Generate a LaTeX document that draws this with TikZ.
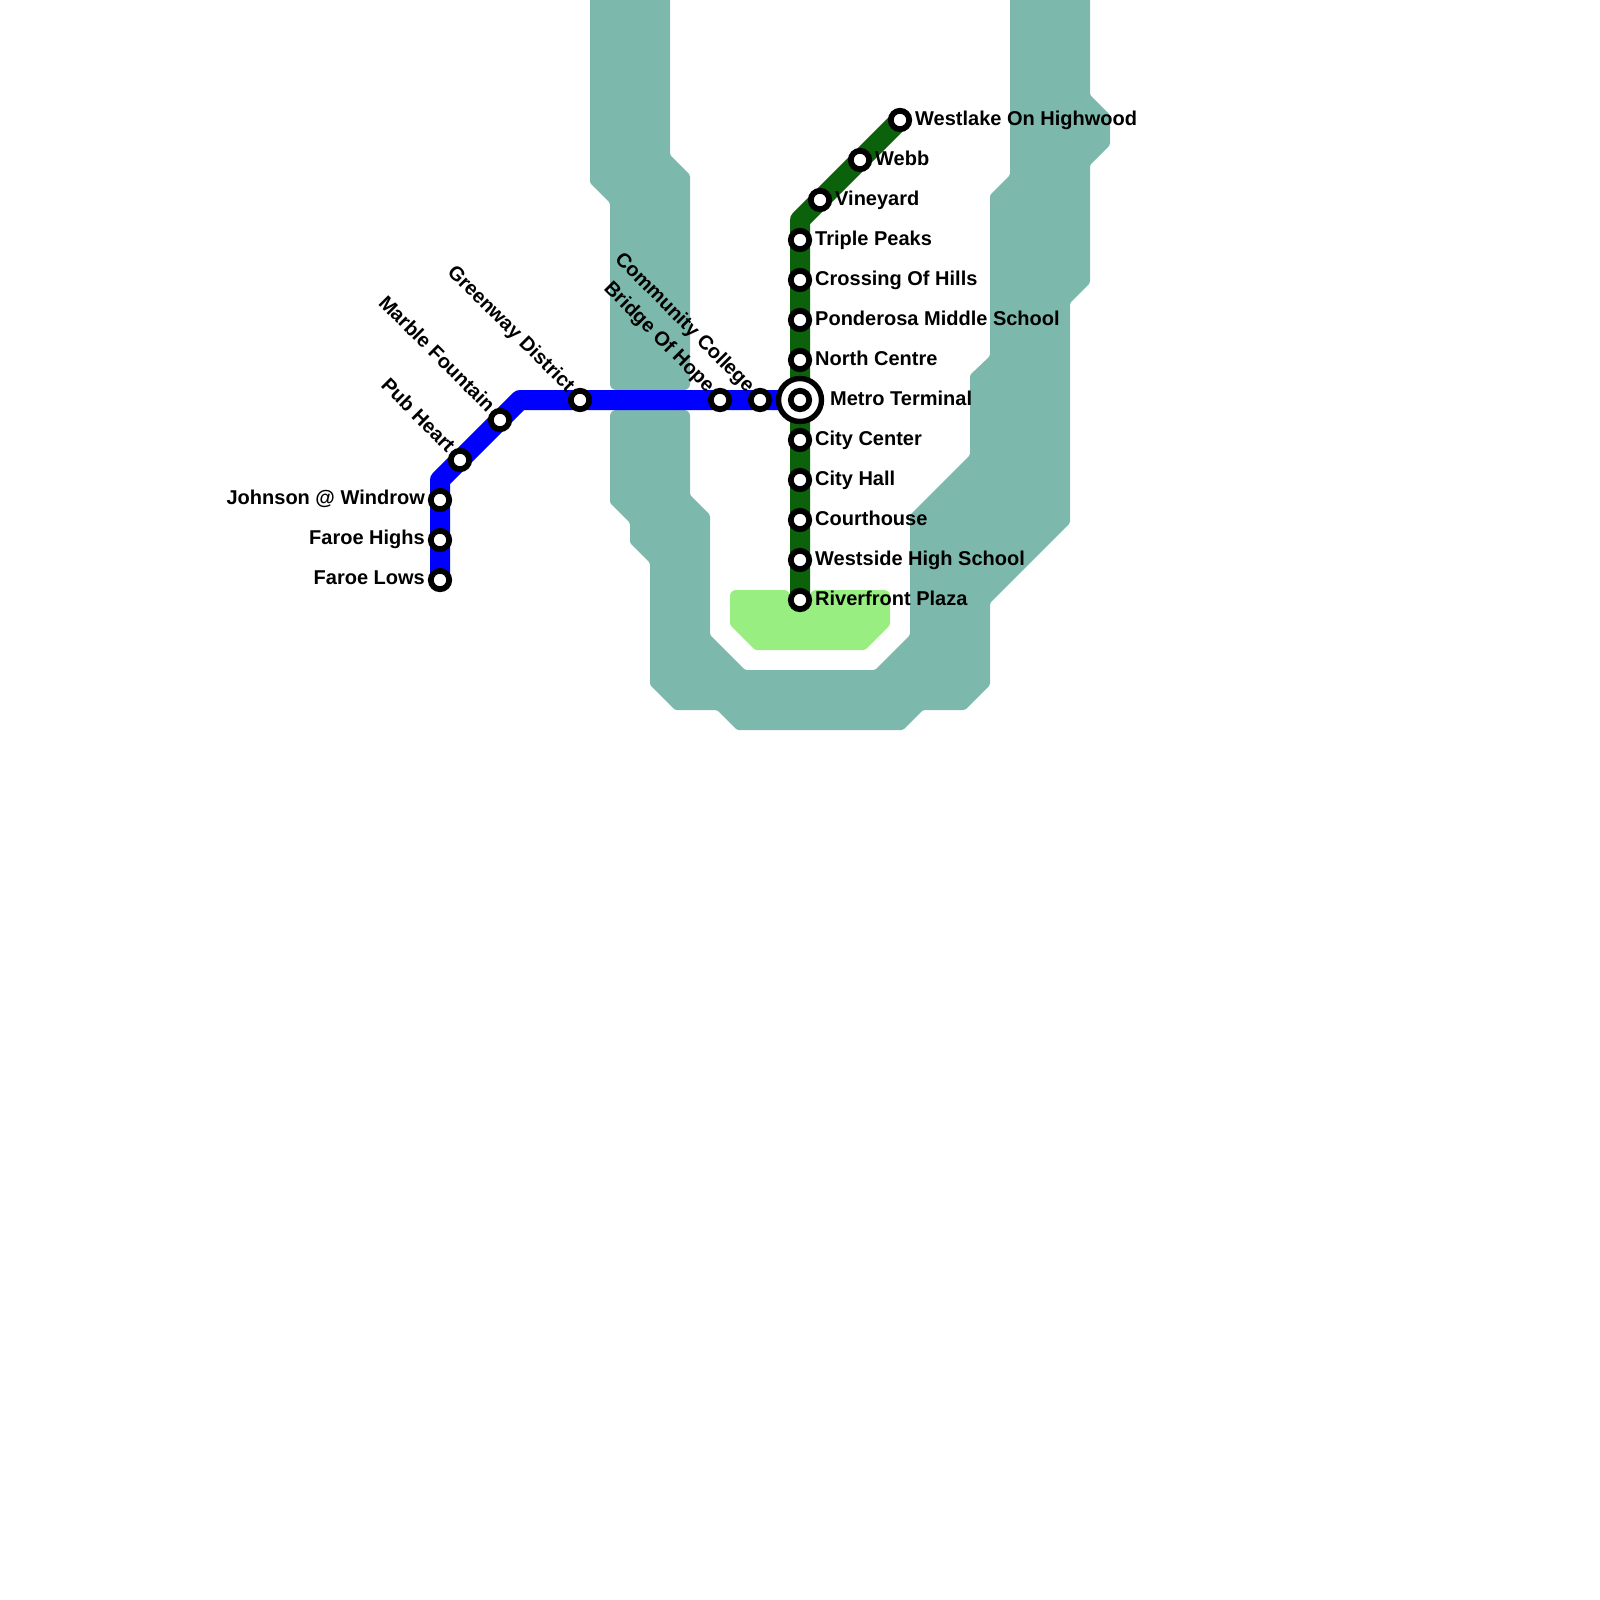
\documentclass[tikz,border=0pt]{standalone}
\usepackage{fontspec}
\setmainfont{Liberation Sans}
\definecolor{water}{RGB}{125,184,172}
\definecolor{park}{RGB}{152,238,128}
\definecolor{lineg}{RGB}{11,98,11}
\tikzset{
 waterarea/.style={fill=water,draw=none,rounded corners=1.5pt},
 parkarea/.style={fill=park,draw=none,rounded corners=1.5pt},
 metroline/.style={line width=20pt,line join=round},
 stn/.style={circle,draw=black,fill=white,line width=5.8pt,minimum size=18.4pt,inner sep=0pt,outer sep=0pt},
 hub/.style={circle,draw=black,fill=white,line width=5.4pt,minimum size=43pt,inner sep=0pt,outer sep=0pt},
 lab/.style={font=\fontsize{20}{24}\selectfont\bfseries,inner sep=0pt,text=black},
 labr/.style={lab,anchor=base west},
 labl/.style={lab,anchor=base east},
 labd/.style={lab,anchor=base east,rotate=-45}
}
\begin{document}
\begin{tikzpicture}[x=1pt,y=-1pt]
\useasboundingbox (0,0) rectangle (1600,1600);
\clip (0,0) rectangle (1600,1600);
\fill[waterarea] (590,-10)--(670,-10)--(670,155)--(690,175)[rounded corners=6pt]--(690,390)--(610,390)[rounded corners=1.5pt]--(610,203)--(590,183)--cycle;
\fill[waterarea] (650,410)[rounded corners=6pt]--(690,410)[rounded corners=1.5pt]--(690,495)--(710,515)--(710,635)--(745,670)--(875,670)--(910,635)--(910,515)--(970,455)--(970,375)--(990,356)--(990,195)--(1010,175)--(1010,-10)--(1090,-10)--(1090,95)--(1110,115)--(1110,145)--(1090,165)--(1090,283)--(1070,303)--(1070,523)--(990,603)--(990,685)--(965,710)--(923,710)--(903,730)--(737,730)--(717,710)--(675,710)--(650,685)--(650,563)--(630,543)--(630,523)--(610,503)[rounded corners=6pt]--(610,410)--cycle;
\fill[parkarea] (810,650)--(865,650)--(890,625)[rounded corners=6pt]--(890,590)--(810,590)[sharp corners]--(810,606)--(790,606)[rounded corners=6pt]--(790,590)--(730,590)[rounded corners=1.5pt]--(730,625)--(755,650)--cycle;
\coordinate (ca) at (440,480);
\coordinate (cb) at (520,400);
\coordinate (cc) at (800,220);
\coordinate (hubc) at (800,400);
\coordinate (rf) at (800,600);
\coordinate (wl) at (900,120);
\coordinate (fl) at (440,580);
\draw[metroline,blue,line cap=butt] (fl)--(ca)--(cb)--(hubc);
\draw[metroline,lineg,line cap=butt] (rf)--(cc)--(wl);
\node[stn] (s1) at (440,580) {};
\node[stn] (s2) at (440,540) {};
\node[stn] (s3) at (440,500) {};
\node[stn] (s4) at (460,460) {};
\node[stn] (s5) at (500,420) {};
\node[stn] (s6) at (580,400) {};
\node[stn] (s7) at (720,400) {};
\node[stn] (s8) at (760,400) {};
\node[hub] (t) at (hubc) {};
\node[stn] (tc) at (hubc) {};
\foreach \n/\yy in {a/600,b/560,c/520,d/480,e/440,f/360,g/320,h/280,i/240}{\node[stn] (g\n) at (800,\yy) {};}
\node[stn] (gj) at (820,200) {};
\node[stn] (gk) at (860,160) {};
\node[stn] (gl) at (900,120) {};
\node[labl] (l1) at (425,504.7) {Johnson @ Windrow};
\node[labl] (l2) at (425,544.7) {Faroe Highs};
\node[labl] (l3) at (425,584.7) {Faroe Lows};
\node[labd] (l4) at (447,453.5) {Pub Heart};
\node[labd] (l5) at (487,413.5) {Marble Fountain};
\node[labd] (l6) at (567,393.5) {Greenway District};
\node[labd] (l7) at (707,393.5) {Bridge Of Hope};
\node[labd] (l8) at (747,393.5) {Community College};
\node[labr] (l9) at (830,405) {Metro Terminal};
\node[labr] (l10) at (815,605) {Riverfront Plaza};
\node[labr] (l11) at (815,565) {Westside High School};
\node[labr] (l12) at (815,525) {Courthouse};
\node[labr] (l13) at (815,485) {City Hall};
\node[labr] (l14) at (815,445) {City Center};
\node[labr] (l15) at (815,365) {North Centre};
\node[labr] (l16) at (815,325) {Ponderosa Middle School};
\node[labr] (l17) at (815,285) {Crossing Of Hills};
\node[labr] (l18) at (815,245) {Triple Peaks};
\node[labr] (l19) at (835,205) {Vineyard};
\node[labr] (l20) at (875,165) {Webb};
\node[labr] (l21) at (915,125) {Westlake On Highwood};
\end{tikzpicture}
\end{document}
